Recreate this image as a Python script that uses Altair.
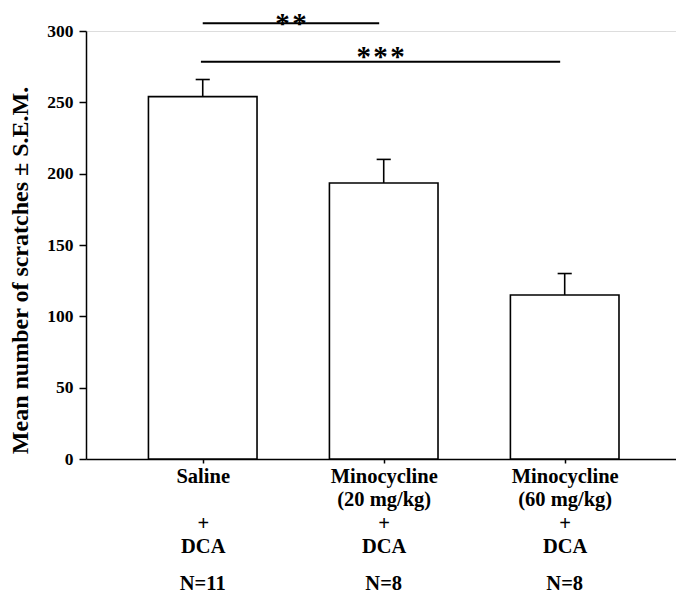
import altair as alt
import pandas as pd

# ---- data ----
positions = [1, 2, 3]
line1 = ["Saline", "Minocycline", "Minocycline"]
line2 = ["\u200b", "(20 mg/kg)", "(60 mg/kg)"]
line3 = ["+", "+", "+"]
line4 = ["DCA", "DCA", "DCA"]
means = [254, 193.5, 115]
sems = [12, 16.5, 15]
n_labels = ["N=11", "N=8", "N=8"]

sig_labels = ["**", "***"]
sig_x1 = [1.0, 0.99]
sig_x2 = [1.975, 2.975]
sig_y = [305.5, 278.5]
sig_text_y = [301.5, 278.5]

FONT = "Liberation Serif"
HALF_BAR = 0.3
CAP = 0.039

df = pd.DataFrame({"pos": positions, "mean": means, "sem": sems, "n": n_labels})
df["lo"] = df["pos"] - HALF_BAR
df["hi"] = df["pos"] + HALF_BAR
df["top"] = df["mean"] + df["sem"]
df["cl"] = df["pos"] - CAP
df["cr"] = df["pos"] + CAP

sig = pd.DataFrame({"label": sig_labels, "x1": sig_x1, "x2": sig_x2,
                    "y": sig_y, "ty": sig_text_y})
sig["xm"] = (sig["x1"] + sig["x2"]) / 2
sig["text"] = sig["label"].apply(lambda s: "\u200a".join(list(s)))

def arr(i):
    parts = [line1[i], line2[i], line3[i], line4[i]]
    return "[" + ",".join("'" + p + "'" for p in parts) + "]"

label_expr = (
    f"datum.value == {positions[0]} ? {arr(0)} : "
    f"datum.value == {positions[1]} ? {arr(1)} : {arr(2)}"
)

xscale = alt.Scale(domain=[0.355, 3.615], nice=False, zero=False)
yscale = alt.Scale(domain=[0, 300], nice=False)

xaxis = alt.Axis(
    values=positions, labelExpr=label_expr, title=None, grid=False,
    tickSize=4, tickColor="black", tickWidth=1.5,
    domainColor="black", domainWidth=1.5,
    labelFont=FONT, labelFontWeight="bold", labelFontSize=20.5,
    labelColor="black", labelBaseline="top", labelLineHeight=23.5,
    labelPadding=3, labelOverlap=False, labelFlush=False,
)
yaxis = alt.Axis(
    values=[0, 50, 100, 150, 200, 250, 300], grid=False,
    tickSize=7, tickColor="black", tickWidth=1.5,
    domainColor="black", domainWidth=1.5,
    labelFont=FONT, labelFontWeight="bold", labelFontSize=17.5,
    labelColor="black", labelPadding=6,
    title="Mean number of scratches \u00b1 S.E.M.",
    titleFont=FONT, titleFontWeight="bold", titleFontSize=24,
    titleColor="black", titleAngle=270, titleX=-59, titleY=239,
    titleAlign="center", titleBaseline="alphabetic",
)

base = alt.Chart(df)

bars = base.mark_bar(fill="white", stroke="black", strokeWidth=1.6).encode(
    x=alt.X("lo:Q", scale=xscale, axis=xaxis),
    x2="hi:Q",
    y=alt.Y("mean:Q", scale=yscale, axis=yaxis),
    y2=alt.datum(0),
)

err = base.mark_rule(color="black", strokeWidth=1.6).encode(
    x="pos:Q", y="mean:Q", y2="top:Q"
)
caps = base.mark_rule(color="black", strokeWidth=1.6).encode(
    x="cl:Q", x2="cr:Q", y="top:Q"
)

ntext = base.mark_text(
    font=FONT, fontWeight="bold", fontSize=20.5, color="black",
    baseline="alphabetic", align="center",
).encode(x="pos:Q", y=alt.value(559), text="n:N")

sbase = alt.Chart(sig)
slines = sbase.mark_rule(color="black", strokeWidth=2).encode(
    x="x1:Q", x2="x2:Q", y="y:Q"
)
stext = sbase.mark_text(
    font=FONT, fontWeight="bold", fontSize=29, color="black",
    baseline="alphabetic", align="center", dy=4,
).encode(x="xm:Q", y="ty:Q", text="text:N")

chart = alt.layer(bars, err, caps, slines, stext, ntext).properties(
    width=590, height=428,
    autosize=alt.AutoSizeParams(type="none"),
    padding={"left": 78, "top": 23, "right": 0, "bottom": 135},
).configure_view(stroke=None).configure(background="white")

chart.save("out.html", embed_options={"renderer": "svg", "actions": False})
